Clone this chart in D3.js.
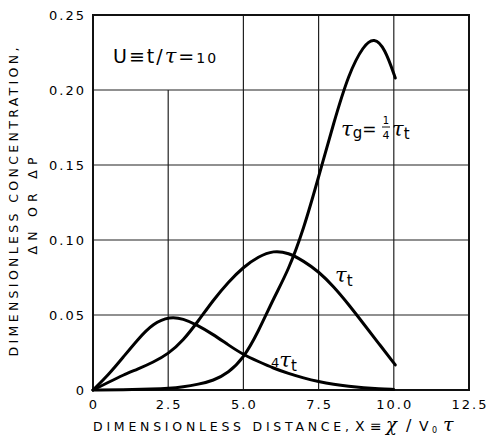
<!DOCTYPE html>
<html>
<head>
<meta charset="utf-8">
<script src="https://cdn.jsdelivr.net/npm/d3@7"></script>
<style>
  body { margin: 0; background: #fff; }
  svg text { font-family: "DejaVu Sans", sans-serif; fill: #000; }
  .tau { font-family: "DejaVu Serif", serif; font-style: italic; }
</style>
</head>
<body>
<svg id="chart" width="492" height="435"></svg>
<script>
// x ticks and y ticks
const xTicks = [0, 2.5, 5.0, 7.5, 10.0, 12.5];
const xTickLabels = ["0", "2.5", "5.0", "7.5", "10.0", "12.5"];
const yTicks = [0, 0.05, 0.10, 0.15, 0.20, 0.25];
const yTickLabels = ["0", "0.05", "0.10", "0.15", "0.20", "0.25"];

// tau_g = 1/4 tau_t
const xG = [0, 1, 2, 2.5, 3, 3.5, 4.0, 4.5, 5.0, 5.5, 6.0, 6.5, 7.0, 7.5, 8.0, 8.5, 9.0, 9.35, 9.7, 10.05];
const vG = [0, 0.0002, 0.0006, 0.001, 0.002, 0.0038, 0.0062, 0.0115, 0.021, 0.039, 0.061, 0.080, 0.107, 0.142, 0.178, 0.211, 0.230, 0.235, 0.228, 0.208];

// tau_t
const xT = [0, 0.5, 1.0, 1.5, 2.0, 2.5, 3.0, 3.5, 4.0, 4.5, 5.0, 5.5, 6.0, 6.5, 7.0, 7.5, 8.0, 8.5, 9.0, 9.5, 10.05];
const vT = [0, 0.005, 0.010, 0.014, 0.0185, 0.024, 0.033, 0.046, 0.060, 0.072, 0.082, 0.089, 0.093, 0.0915, 0.086, 0.079, 0.069, 0.057, 0.044, 0.031, 0.0167];

// 4 tau_t
const x4 = [0, 0.5, 1.0, 1.5, 2.0, 2.56, 3.0, 3.45, 4.0, 4.5, 5.0, 5.5, 6.0, 6.5, 7.0, 7.5, 8.0, 8.5, 9.0, 9.5, 10.0];
const v4 = [0, 0.0098, 0.0218, 0.034, 0.0445, 0.049, 0.0475, 0.0435, 0.037, 0.030, 0.0235, 0.019, 0.0145, 0.011, 0.008, 0.0056, 0.0038, 0.0025, 0.0015, 0.0008, 0.0004];

const svg = d3.select("#chart");

const x = d3.scaleLinear().domain([0, 12.5]).range([93, 469]);
const y = d3.scaleLinear().domain([0, 0.25]).range([390, 15]);

// grid
svg.append("g").selectAll("line")
  .data(yTicks.slice(1, -1))
  .enter().append("line")
  .attr("x1", x(0)).attr("x2", x(12.5))
  .attr("y1", d => y(d)).attr("y2", d => y(d))
  .attr("stroke", "#222").attr("stroke-width", 1.2);

svg.append("g").selectAll("line")
  .data(xTicks.slice(1, -1))
  .enter().append("line")
  .attr("x1", d => x(d)).attr("x2", d => x(d))
  .attr("y1", y(0))
  // the 2.5 line stops under the U label
  .attr("y2", d => d === 2.5 ? y(0.20) : y(0.25))
  .attr("stroke", "#222").attr("stroke-width", 1.2);

// frame
svg.append("rect")
  .attr("x", x(0)).attr("y", y(0.25))
  .attr("width", x(12.5) - x(0)).attr("height", y(0) - y(0.25))
  .attr("fill", "none").attr("stroke", "#111").attr("stroke-width", 2);

// tick labels
svg.append("g").selectAll("text")
  .data(yTicks)
  .enter().append("text")
  .attr("x", 86).attr("y", d => y(d) + 5)
  .attr("text-anchor", "end")
  .attr("font-size", 13).attr("letter-spacing", 2)
  .text((d, i) => yTickLabels[i]);

svg.append("g").selectAll("text")
  .data(xTicks)
  .enter().append("text")
  .attr("x", d => x(d) + 1).attr("y", 409)
  .attr("text-anchor", "middle")
  .attr("font-size", 13).attr("letter-spacing", 2)
  .text((d, i) => xTickLabels[i]);

// axis titles
svg.append("text")
  .attr("x", 93).attr("y", 431)
  .attr("font-size", 12.5)
  .attr("textLength", 256).attr("lengthAdjust", "spacing")
  .text("DIMENSIONLESS DISTANCE,");

const xt = svg.append("text").attr("y", 431).attr("font-size", 14);
xt.append("tspan").attr("x", 355).text("X");
xt.append("tspan").attr("x", 370).text("\u2261");
xt.append("tspan").attr("x", 386).attr("class", "tau").attr("font-size", 18).text("\u03C7");
xt.append("tspan").attr("x", 406).attr("font-size", 16).text("/");
xt.append("tspan").attr("x", 419).text("V");
xt.append("tspan").attr("x", 432).attr("font-size", 8).attr("dy", 2).text("0");
xt.append("tspan").attr("x", 443).attr("class", "tau").attr("font-size", 19).attr("dy", -2).text("\u03C4");

svg.append("text")
  .attr("transform", "translate(18,202) rotate(-90)")
  .attr("text-anchor", "middle")
  .attr("font-size", 12.5)
  .attr("textLength", 309).attr("lengthAdjust", "spacing")
  .text("DIMENSIONLESS CONCENTRATION,");

svg.append("text")
  .attr("transform", "translate(37,206) rotate(-90)")
  .attr("text-anchor", "middle")
  .attr("font-size", 12.5)
  .attr("textLength", 97).attr("lengthAdjust", "spacing")
  .text("\u0394N OR \u0394P");

// curves
const line = d3.line()
  .x(d => x(d[0])).y(d => y(d[1]))
  .curve(d3.curveBasis);

const series = [d3.zip(xG, vG), d3.zip(xT, vT), d3.zip(x4, v4)];
svg.append("g").selectAll("path")
  .data(series)
  .enter().append("path")
  .attr("d", line)
  .attr("fill", "none")
  .attr("stroke", "#000")
  .attr("stroke-width", 3)
  .attr("stroke-linecap", "round");

// annotations
const u = svg.append("text").attr("x", 113).attr("y", 63).attr("font-size", 19).attr("letter-spacing", 2);
u.append("tspan").text("U\u2261t/");
u.append("tspan").attr("class", "tau").attr("font-size", 21).text("\u03C4");
u.append("tspan").text("=");
u.append("tspan").attr("font-size", 14).text("10");

const g = svg.append("text").attr("x", 341).attr("y", 136).attr("font-size", 21);
g.append("tspan").attr("class", "tau").text("\u03C4");
g.append("tspan").attr("font-size", 15).attr("dy", 2).text("g");
g.append("tspan").attr("font-size", 17).attr("dy", -3).text("=");
svg.append("text").attr("x", 386).attr("y", 124).attr("text-anchor", "middle")
  .attr("font-size", 10).text("1");
svg.append("line").attr("x1", 382).attr("x2", 390).attr("y1", 127).attr("y2", 127)
  .attr("stroke", "#111").attr("stroke-width", 1);
svg.append("text").attr("x", 386).attr("y", 139).attr("text-anchor", "middle")
  .attr("font-size", 11).text("4");
const g2 = svg.append("text").attr("x", 392).attr("y", 136).attr("font-size", 21);
g2.append("tspan").attr("class", "tau").text("\u03C4");
g2.append("tspan").attr("font-size", 15).attr("dy", 3).text("t");

const t1 = svg.append("text").attr("x", 335).attr("y", 282).attr("font-size", 21);
t1.append("tspan").attr("class", "tau").text("\u03C4");
t1.append("tspan").attr("font-size", 15).attr("dy", 4).text("t");

const t4 = svg.append("text").attr("x", 271).attr("y", 367).attr("font-size", 21);
t4.append("tspan").attr("font-size", 13).text("4");
t4.append("tspan").attr("class", "tau").text("\u03C4");
t4.append("tspan").attr("font-size", 15).attr("dy", 4).text("t");
</script>
</body>
</html>
